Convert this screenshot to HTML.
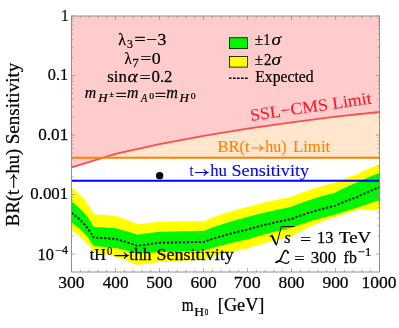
<!DOCTYPE html>
<html><head><meta charset="utf-8"><style>
html,body{margin:0;padding:0;background:#fff}
svg{display:block}
text{font-family:"Liberation Serif",serif;stroke-width:0.25px;paint-order:stroke fill;}
</style></head><body>
<svg width="399" height="328" viewBox="0 0 399 328">
<rect width="399" height="328" fill="#fff"/>
<rect x="71.55" y="16.0" width="307.95" height="141.76" fill="#ffe6cc"/>
<polygon points="71.55,167.40 115.54,153.90 159.54,144.10 203.53,135.90 247.52,128.70 291.51,122.30 335.51,116.70 379.50,112.00 379.5,16.0 71.55,16.0" fill="#ffcccc"/>
<polygon points="71.55,187.60 74.30,189.76 77.05,192.13 79.80,194.73 82.55,197.62 85.30,200.87 88.05,204.60 90.80,208.96 93.55,214.20 96.30,214.41 99.05,214.61 101.80,214.82 104.54,215.04 107.29,215.25 110.04,215.46 112.79,215.68 115.54,215.90 118.29,216.81 121.04,217.76 123.79,218.74 126.54,219.76 129.29,220.82 132.04,221.93 134.79,223.09 137.54,224.30 140.29,223.95 143.04,223.60 145.79,223.25 148.54,222.91 151.29,222.58 154.04,222.25 156.79,221.92 159.54,221.60 165.03,221.55 170.53,221.50 176.03,221.45 181.53,221.40 187.03,221.35 192.53,221.30 198.03,221.25 203.53,221.20 209.03,218.92 214.53,216.82 220.03,214.88 225.52,213.07 231.02,211.39 236.52,209.80 242.02,208.31 247.52,206.90 253.02,205.38 258.52,203.95 264.02,202.59 269.52,201.30 275.02,200.07 280.52,198.90 286.02,197.78 291.51,196.70 297.01,194.42 302.51,192.32 308.01,190.38 313.51,188.57 319.01,186.89 324.51,185.30 330.01,183.81 335.51,182.40 338.26,181.19 341.01,180.03 343.76,178.92 346.51,177.86 349.25,176.84 352.00,175.86 354.75,174.91 357.50,174.00 360.25,172.55 363.00,171.18 365.75,169.88 368.50,168.64 371.25,167.46 374.00,166.32 376.75,165.24 379.50,164.20 379.50,210.30 376.75,210.26 374.00,210.22 371.25,210.19 368.50,210.15 365.75,210.11 363.00,210.07 360.25,210.04 357.50,210.00 354.75,210.78 352.00,211.58 349.25,212.41 346.51,213.26 343.76,214.15 341.01,215.06 338.26,216.01 335.51,217.00 330.01,218.78 324.51,220.69 319.01,222.75 313.51,224.98 308.01,227.44 302.51,230.15 297.01,233.17 291.51,236.60 286.02,237.81 280.52,239.08 275.02,240.42 269.52,241.83 264.02,243.32 258.52,244.91 253.02,246.60 247.52,248.40 242.02,249.56 236.52,250.78 231.02,252.05 225.52,253.40 220.03,254.81 214.53,256.31 209.03,257.90 203.53,259.60 198.03,259.89 192.53,260.18 187.03,260.47 181.53,260.77 176.03,261.07 170.53,261.38 165.03,261.69 159.54,262.00 156.79,262.36 154.04,262.72 151.29,263.08 148.54,263.46 145.79,263.83 143.04,264.22 140.29,264.61 137.54,265.00 134.79,263.79 132.04,262.63 129.29,261.52 126.54,260.46 123.79,259.44 121.04,258.46 118.29,257.51 115.54,256.60 112.79,255.98 110.04,255.37 107.29,254.78 104.54,254.20 101.80,253.63 99.05,253.08 96.30,252.53 93.55,252.00 90.80,247.97 88.05,244.48 85.30,241.40 82.55,238.66 79.80,236.17 77.05,233.91 74.30,231.83 71.55,229.90" fill="#ffff00"/>
<polygon points="71.55,201.60 74.30,203.69 77.05,205.97 79.80,208.47 82.55,211.24 85.30,214.34 88.05,217.87 90.80,221.95 93.55,226.80 96.30,226.97 99.05,227.14 101.80,227.32 104.54,227.49 107.29,227.67 110.04,227.84 112.79,228.02 115.54,228.20 118.29,228.93 121.04,229.68 123.79,230.45 126.54,231.25 129.29,232.07 132.04,232.92 134.79,233.79 137.54,234.70 140.29,234.31 143.04,233.93 145.79,233.55 148.54,233.18 151.29,232.82 154.04,232.46 156.79,232.10 159.54,231.75 165.03,231.66 170.53,231.56 176.03,231.47 181.53,231.37 187.03,231.28 192.53,231.19 198.03,231.09 203.53,231.00 209.03,228.80 214.53,226.76 220.03,224.88 225.52,223.13 231.02,221.48 236.52,219.94 242.02,218.48 247.52,217.10 253.02,215.56 258.52,214.12 264.02,212.74 269.52,211.44 275.02,210.20 280.52,209.02 286.02,207.88 291.51,206.80 297.01,204.54 302.51,202.46 308.01,200.53 313.51,198.74 319.01,197.06 324.51,195.49 330.01,194.00 335.51,192.60 338.26,191.06 341.01,189.62 343.76,188.24 346.51,186.94 349.25,185.70 352.00,184.52 354.75,183.38 357.50,182.30 360.25,180.94 363.00,179.64 365.75,178.41 368.50,177.23 371.25,176.11 374.00,175.03 376.75,174.00 379.50,173.00 379.50,200.40 376.75,201.20 374.00,202.02 371.25,202.87 368.50,203.75 365.75,204.66 363.00,205.60 360.25,206.58 357.50,207.60 354.75,208.36 352.00,209.14 349.25,209.95 346.51,210.78 343.76,211.64 341.01,212.53 338.26,213.45 335.51,214.40 330.01,215.75 324.51,217.17 319.01,218.68 313.51,220.28 308.01,221.98 302.51,223.81 297.01,225.77 291.51,227.90 286.02,229.09 280.52,230.33 275.02,231.64 269.52,233.02 264.02,234.47 258.52,236.01 253.02,237.65 247.52,239.40 242.02,240.56 236.52,241.78 231.02,243.05 225.52,244.40 220.03,245.81 214.53,247.31 209.03,248.90 203.53,250.60 198.03,250.78 192.53,250.97 187.03,251.15 181.53,251.34 176.03,251.53 170.53,251.72 165.03,251.91 159.54,252.10 156.79,252.27 154.04,252.44 151.29,252.62 148.54,252.79 145.79,252.97 143.04,253.14 140.29,253.32 137.54,253.50 134.79,252.73 132.04,251.98 129.29,251.26 126.54,250.55 123.79,249.86 121.04,249.19 118.29,248.54 115.54,247.90 112.79,247.64 110.04,247.39 107.29,247.13 104.54,246.88 101.80,246.63 99.05,246.39 96.30,246.14 93.55,245.90 90.80,241.56 88.05,237.84 85.30,234.59 82.55,231.71 79.80,229.11 77.05,226.75 74.30,224.59 71.55,222.60" fill="#00f500"/>
<polyline points="71.55,212.80 74.30,214.87 77.05,217.12 79.80,219.58 82.55,222.30 85.30,225.35 88.05,228.80 90.80,232.79 93.55,237.50 96.30,237.67 99.05,237.84 101.80,238.02 104.54,238.19 107.29,238.37 110.04,238.54 112.79,238.72 115.54,238.90 118.29,239.68 121.04,240.48 123.79,241.31 126.54,242.16 129.29,243.05 132.04,243.96 134.79,244.91 137.54,245.90 140.29,245.48 143.04,245.06 145.79,244.65 148.54,244.25 151.29,243.85 154.04,243.46 156.79,243.08 159.54,242.70 165.03,242.61 170.53,242.52 176.03,242.44 181.53,242.35 187.03,242.26 192.53,242.17 198.03,242.09 203.53,242.00 209.03,240.06 214.53,238.26 220.03,236.58 225.52,235.00 231.02,233.51 236.52,232.10 242.02,230.77 247.52,229.50 253.02,227.93 258.52,226.45 264.02,225.05 269.52,223.72 275.02,222.46 280.52,221.25 286.02,220.10 291.51,219.00 297.01,216.87 302.51,214.91 308.01,213.08 313.51,211.38 319.01,209.78 324.51,208.27 330.01,206.85 335.51,205.50 338.26,204.27 341.01,203.10 343.76,201.98 346.51,200.90 349.25,199.87 352.00,198.88 354.75,197.92 357.50,197.00 360.25,195.57 363.00,194.21 365.75,192.92 368.50,191.70 371.25,190.53 374.00,189.41 376.75,188.33 379.50,187.30" fill="none" stroke="#000" stroke-width="1.8" stroke-dasharray="2.2,1.8"/>
<polyline points="71.55,167.40 115.54,153.90 159.54,144.10 203.53,135.90 247.52,128.70 291.51,122.30 335.51,116.70 379.50,112.00" fill="none" stroke="#ff4d4d" stroke-width="1.8"/>
<line x1="71.55" x2="379.5" y1="157.76" y2="157.76" stroke="#ff8000" stroke-width="2"/>
<line x1="71.55" x2="379.5" y1="180.8" y2="180.8" stroke="#0000ff" stroke-width="2"/>
<circle cx="159.64" cy="175.65" r="3.7" fill="#000"/>
<path d="M71.55 272.0v-3.9M71.55 16.0v3.9M80.35 272.0v-2.3M80.35 16.0v2.3M89.15 272.0v-2.3M89.15 16.0v2.3M97.95 272.0v-2.3M97.95 16.0v2.3M106.74 272.0v-2.3M106.74 16.0v2.3M115.54 272.0v-3.9M115.54 16.0v3.9M124.34 272.0v-2.3M124.34 16.0v2.3M133.14 272.0v-2.3M133.14 16.0v2.3M141.94 272.0v-2.3M141.94 16.0v2.3M150.74 272.0v-2.3M150.74 16.0v2.3M159.54 272.0v-3.9M159.54 16.0v3.9M168.33 272.0v-2.3M168.33 16.0v2.3M177.13 272.0v-2.3M177.13 16.0v2.3M185.93 272.0v-2.3M185.93 16.0v2.3M194.73 272.0v-2.3M194.73 16.0v2.3M203.53 272.0v-3.9M203.53 16.0v3.9M212.33 272.0v-2.3M212.33 16.0v2.3M221.13 272.0v-2.3M221.13 16.0v2.3M229.92 272.0v-2.3M229.92 16.0v2.3M238.72 272.0v-2.3M238.72 16.0v2.3M247.52 272.0v-3.9M247.52 16.0v3.9M256.32 272.0v-2.3M256.32 16.0v2.3M265.12 272.0v-2.3M265.12 16.0v2.3M273.92 272.0v-2.3M273.92 16.0v2.3M282.72 272.0v-2.3M282.72 16.0v2.3M291.51 272.0v-3.9M291.51 16.0v3.9M300.31 272.0v-2.3M300.31 16.0v2.3M309.11 272.0v-2.3M309.11 16.0v2.3M317.91 272.0v-2.3M317.91 16.0v2.3M326.71 272.0v-2.3M326.71 16.0v2.3M335.51 272.0v-3.9M335.51 16.0v3.9M344.31 272.0v-2.3M344.31 16.0v2.3M353.10 272.0v-2.3M353.10 16.0v2.3M361.90 272.0v-2.3M361.90 16.0v2.3M370.70 272.0v-2.3M370.70 16.0v2.3M379.50 272.0v-3.9M379.50 16.0v3.9M71.55 16.00h3.6M379.5 16.00h-3.6M71.55 75.50h3.6M379.5 75.50h-3.6M71.55 57.59h1.7M379.5 57.59h-1.7M71.55 47.11h1.7M379.5 47.11h-1.7M71.55 39.68h1.7M379.5 39.68h-1.7M71.55 33.91h1.7M379.5 33.91h-1.7M71.55 29.20h1.7M379.5 29.20h-1.7M71.55 25.22h1.7M379.5 25.22h-1.7M71.55 21.77h1.7M379.5 21.77h-1.7M71.55 18.72h1.7M379.5 18.72h-1.7M71.55 135.00h3.6M379.5 135.00h-3.6M71.55 117.09h1.7M379.5 117.09h-1.7M71.55 106.61h1.7M379.5 106.61h-1.7M71.55 99.18h1.7M379.5 99.18h-1.7M71.55 93.41h1.7M379.5 93.41h-1.7M71.55 88.70h1.7M379.5 88.70h-1.7M71.55 84.72h1.7M379.5 84.72h-1.7M71.55 81.27h1.7M379.5 81.27h-1.7M71.55 78.22h1.7M379.5 78.22h-1.7M71.55 194.50h3.6M379.5 194.50h-3.6M71.55 176.59h1.7M379.5 176.59h-1.7M71.55 166.11h1.7M379.5 166.11h-1.7M71.55 158.68h1.7M379.5 158.68h-1.7M71.55 152.91h1.7M379.5 152.91h-1.7M71.55 148.20h1.7M379.5 148.20h-1.7M71.55 144.22h1.7M379.5 144.22h-1.7M71.55 140.77h1.7M379.5 140.77h-1.7M71.55 137.72h1.7M379.5 137.72h-1.7M71.55 254.00h3.6M379.5 254.00h-3.6M71.55 236.09h1.7M379.5 236.09h-1.7M71.55 225.61h1.7M379.5 225.61h-1.7M71.55 218.18h1.7M379.5 218.18h-1.7M71.55 212.41h1.7M379.5 212.41h-1.7M71.55 207.70h1.7M379.5 207.70h-1.7M71.55 203.72h1.7M379.5 203.72h-1.7M71.55 200.27h1.7M379.5 200.27h-1.7M71.55 197.22h1.7M379.5 197.22h-1.7" stroke="#888888" stroke-width="0.7" fill="none"/>
<rect x="71.55" y="16.0" width="307.95" height="256.00" fill="none" stroke="#888888" stroke-width="0.9"/>
<rect x="229.5" y="37.75" width="17.9" height="10.9" fill="#00f500" stroke="#000" stroke-width="0.8"/>
<rect x="229.5" y="56.5" width="17.9" height="10.6" fill="#ffff00" stroke="#000" stroke-width="0.8"/>
<line x1="228.9" x2="247.7" y1="78.3" y2="78.3" stroke="#000" stroke-width="1.6" stroke-dasharray="2.6,1.45"/>
<g fill="none" stroke="#000" stroke-linejoin="miter"><path d="M269.5 236.6L271.7 235.3" stroke-width="0.9"/><path d="M271.5 235.0L276.2 244.6" stroke-width="1.9"/><path d="M276.4 245.6L281.3 226.5H294.6" stroke-width="1.0"/></g>
<g fill="none" stroke="#000" stroke-linecap="round"><path d="M288 252.6C287.8 250.5 285.6 249.8 284.2 251.4C282.6 253.3 282.2 256.5 280.6 259.3C279.6 261 278 262.2 275.9 262.4" stroke-width="1.5"/><path d="M275.9 262.4C277.5 260.7 279.5 260.7 281.5 261.8C284 263.2 287.5 264.5 288.9 261.8" stroke-width="1.3"/><circle cx="287.9" cy="252.7" r="0.6" fill="#000"/></g>
<g opacity="0.999">
<text transform="translate(118.20,45.1) scale(0.941,1)" font-size="17" stroke="#000">λ</text>
<text transform="translate(126.89,48.2) scale(0.988,1)" font-size="12" stroke="#000">3</text>
<text transform="translate(134.20,45.1) scale(1.192,1)" font-size="17" stroke="#000">=</text>
<text transform="translate(146.04,45.1) scale(1.142,1)" font-size="17" stroke="#000">−</text>
<text transform="translate(157.52,45.1) scale(1.046,1)" font-size="17" stroke="#000">3</text>
<text transform="translate(124.42,64.2) scale(0.878,1)" font-size="17" stroke="#000">λ</text>
<text transform="translate(132.34,67.3) scale(1.086,1)" font-size="12" stroke="#000">7</text>
<text transform="translate(140.45,64.2) scale(1.129,1)" font-size="17" stroke="#000">=</text>
<text transform="translate(151.79,64.2) scale(1.049,1)" font-size="17" stroke="#000">0</text>
<text transform="translate(107.23,82.4) scale(0.984,1)" font-size="17" stroke="#000">sin</text>
<text transform="translate(127.55,82.4) scale(1.140,1)" font-size="17" font-style="italic" stroke="#000">α</text>
<text transform="translate(139.52,83.2) scale(1.167,1)" font-size="17" stroke="#000">=</text>
<text transform="translate(151.52,82.4) scale(0.989,1)" font-size="17" stroke="#000">0.2</text>
<text transform="translate(84.75,97.5) scale(0.932,1)" font-size="17" font-style="italic" stroke="#000">m</text>
<text transform="translate(98.15,101.5) scale(1.067,1)" font-size="12" font-style="italic" stroke="#000">H</text>
<text transform="translate(109.40,97.4) scale(0.947,1)" font-size="8.5" stroke="#000">±</text>
<text transform="translate(115.60,100.6) scale(1.192,1)" font-size="17" stroke="#000">=</text>
<text transform="translate(127.05,97.5) scale(0.932,1)" font-size="17" font-style="italic" stroke="#000">m</text>
<text transform="translate(140.90,101.5) scale(0.861,1)" font-size="12" font-style="italic" stroke="#000">A</text>
<text transform="translate(149.35,99) scale(1.129,1)" font-size="8.5" stroke="#000">0</text>
<text transform="translate(154.80,100.6) scale(1.192,1)" font-size="17" stroke="#000">=</text>
<text transform="translate(166.25,97.5) scale(0.950,1)" font-size="17" font-style="italic" stroke="#000">m</text>
<text transform="translate(179.55,101.5) scale(1.077,1)" font-size="12" font-style="italic" stroke="#000">H</text>
<text transform="translate(190.75,99) scale(1.129,1)" font-size="8.5" stroke="#000">0</text>
<text transform="translate(254.68,45.2) scale(0.942,1)" font-size="16" stroke="#000">±</text>
<text transform="translate(263.49,45.2) scale(0.850,1)" font-size="16" stroke="#000">1</text>
<text transform="translate(271.60,45.2) scale(1.200,1)" font-size="16" font-style="italic" stroke="#000">σ</text>
<text transform="translate(254.68,64.7) scale(0.942,1)" font-size="16" stroke="#000">±</text>
<text transform="translate(263.98,64.7) scale(0.933,1)" font-size="16" stroke="#000">2</text>
<text transform="translate(271.60,64.7) scale(1.200,1)" font-size="16" font-style="italic" stroke="#000">σ</text>
<text transform="translate(255.20,81.6) scale(0.982,1)" font-size="16" stroke="#000">Expected</text>
<text transform="translate(61.21,20.9) scale(0.850,1)" font-size="17" stroke="#000">1</text>
<text transform="translate(47.84,80.4) scale(0.959,1)" font-size="17" stroke="#000">0.1</text>
<text transform="translate(38.21,139.8) scale(1.010,1)" font-size="17" stroke="#000">0.01</text>
<text transform="translate(30.22,198.9) scale(0.994,1)" font-size="17" stroke="#000">0.001</text>
<text transform="translate(37.57,259.55) scale(0.964,1)" font-size="17" stroke="#000">10</text>
<text transform="translate(55.18,253.7) scale(1.033,1)" font-size="11.7" stroke="#000">−4</text>
<text transform="translate(181.67,311.2) scale(0.850,1)" font-size="18" stroke="#000">m</text>
<text transform="translate(194.14,315.8) scale(1.041,1)" font-size="13" stroke="#000">H</text>
<text transform="translate(204.63,315.3) scale(0.945,1)" font-size="7.5" stroke="#000">0</text>
<text transform="translate(217.81,311.2) scale(1.015,1)" font-size="18" stroke="#000">[GeV]</text>
<text transform="translate(217.39,152.2) scale(0.977,1)" font-size="17" fill="#ff8000" stroke="#ff8000" style="stroke-width:.1px">BR(t</text>
<text transform="translate(265.35,152.2) scale(0.934,1)" font-size="17" fill="#ff8000" stroke="#ff8000" style="stroke-width:.1px">hu)</text>
<text transform="translate(292.89,152.2) scale(0.990,1)" font-size="17" fill="#ff8000" stroke="#ff8000" style="stroke-width:.1px">Limit</text>
<text transform="translate(189.42,176.4) scale(0.850,1)" font-size="17" fill="#0000f0" stroke="#0000f0" style="stroke-width:.1px">t</text>
<text transform="translate(210.15,176.4) scale(0.986,1)" font-size="17" fill="#0000f0" stroke="#0000f0" style="stroke-width:.1px">hu</text>
<text transform="translate(231.52,176.4) scale(1.067,1)" font-size="17" fill="#0000f0" stroke="#0000f0" style="stroke-width:.1px">Sensitivity</text>
<text transform="translate(89.75,260.0) scale(0.953,1)" font-size="17" stroke="#000">tH</text>
<text transform="translate(106.91,254.6) scale(0.895,1)" font-size="12" stroke="#000">0</text>
<text transform="translate(129.35,260.0) scale(1.022,1)" font-size="17" stroke="#000">thh</text>
<text transform="translate(156.52,260.0) scale(1.062,1)" font-size="17" stroke="#000">Sensitivity</text>
<text transform="translate(284.35,243.3) scale(0.982,1)" font-size="17" font-style="italic" stroke="#000">s</text>
<text transform="translate(300.15,245.0) scale(1.129,1)" font-size="17" stroke="#000">=</text>
<text transform="translate(316.97,243.3) scale(0.964,1)" font-size="17" stroke="#000">13</text>
<text transform="translate(338.96,243.3) scale(1.108,1)" font-size="17" stroke="#000">TeV</text>
<text transform="translate(294.29,263.6) scale(1.079,1)" font-size="17" stroke="#000">=</text>
<text transform="translate(310.76,262.6) scale(0.997,1)" font-size="17" stroke="#000">300</text>
<text transform="translate(343.60,262.6) scale(0.935,1)" font-size="17" stroke="#000">fb</text>
<text transform="translate(357.96,255.7) scale(1.039,1)" font-size="12.2" stroke="#000">−1</text>
<text transform="translate(58.17,287.6) scale(1.038,1)" font-size="17" stroke="#000">300</text>
<text transform="translate(102.72,287.6) scale(1.016,1)" font-size="17" stroke="#000">400</text>
<text transform="translate(146.16,287.6) scale(1.038,1)" font-size="17" stroke="#000">500</text>
<text transform="translate(190.43,287.6) scale(1.027,1)" font-size="17" stroke="#000">600</text>
<text transform="translate(233.86,287.6) scale(1.050,1)" font-size="17" stroke="#000">700</text>
<text transform="translate(278.42,287.6) scale(1.027,1)" font-size="17" stroke="#000">800</text>
<text transform="translate(322.41,287.6) scale(1.027,1)" font-size="17" stroke="#000">900</text>
<text transform="translate(361.48,287.6) scale(1.030,1)" font-size="17" stroke="#000">1000</text>
<text transform="translate(18.6,226.45) rotate(-90) scale(1.052,1)" font-size="18" stroke="#000">BR(t</text>
<text transform="translate(18.6,173.45) rotate(-90) scale(1.020,1)" font-size="18" stroke="#000">hu)</text>
<text transform="translate(18.6,144.24) rotate(-90) scale(1.060,1)" font-size="18" stroke="#000">Sensitivity</text>
<text transform="translate(251.0,120.9) rotate(-8.20) scale(1.048,1)" font-size="17" fill="#fa1428" stroke="#fa1428" style="stroke-width:.1px">SSL−CMS Limit</text>
<path d="M251.6 148.0H262.9M259.3 144.8Q260.59999999999997 147.1 263.2 148.0Q260.59999999999997 148.9 259.3 151.2" fill="none" stroke="#ff8000" stroke-width="1.1"/>
<path d="M195.0 172.5H207.39999999999998M203.79999999999998 169.3Q205.1 171.6 207.7 172.5Q205.1 173.4 203.79999999999998 175.7" fill="none" stroke="#0000f0" stroke-width="1.1"/>
<path d="M114.6 255.6H127.7M124.1 252.4Q125.4 254.7 128.0 255.6Q125.4 256.5 124.1 258.8" fill="none" stroke="#000" stroke-width="1.1"/>
<path d="M0 0H12.799999999999999M9.2 -3.2Q10.5 -0.9 13.1 0Q10.5 0.9 9.2 3.2" fill="none" stroke="#000" stroke-width="1.1" transform="translate(13.7,188) rotate(-90)"/>
</g>
</svg></body></html>
